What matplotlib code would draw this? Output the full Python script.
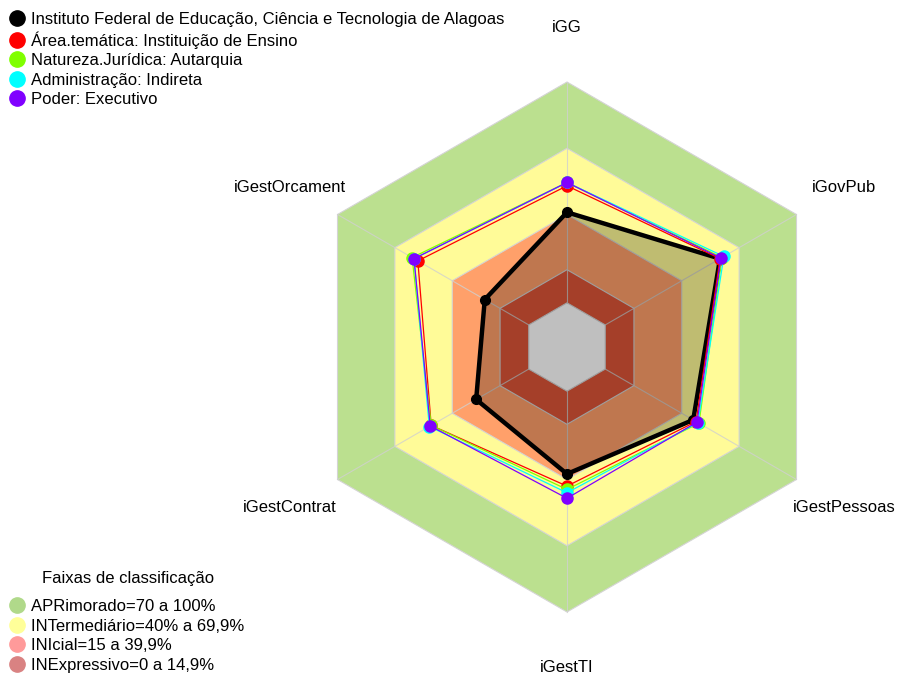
import numpy as np
import matplotlib
matplotlib.use('Agg')
import matplotlib.pyplot as plt
from matplotlib.lines import Line2D

plt.rcParams['font.family'] = ['Liberation Sans', 'DejaVu Sans']

# eixos do radar (sentido horario a partir do topo)
eixos = ['iGG', 'iGovPub', 'iGestPessoas', 'iGestTI', 'iGestContrat', 'iGestOrcament']

# valores (%)
instituto = [41, 60, 46, 37.5, 27.5, 23]
area_tematica = [53, 60, 47.5, 43, 51, 58]
natureza = [54.5, 61, 49, 44.5, 51, 61]
administracao = [54.5, 62, 48.5, 46, 52, 60]
poder = [54.5, 60.5, 48, 48.5, 51.5, 60]

series_nomes = ['Instituto Federal de Educação, Ciência e Tecnologia de Alagoas',
                'Área.temática: Instituição de Ensino',
                'Natureza.Jurídica: Autarquia',
                'Administração: Indireta',
                'Poder: Executivo']
series_cores = ['black', '#FF0000', '#80FF00', '#00FFFF', '#8000FF']

# faixas de classificacao
faixas_lim = [100, 70, 40, 15, 0]
faixas_cor = ['#BBE08F', '#FFFB98', '#FFA06A', '#DD5538', 'white']
faixas_nomes = ['APRimorado=70 a 100%', 'INTermediário=40% a 69,9%',
                'INIcial=15 a 39,9%', 'INExpressivo=0 a 14,9%']
faixas_leg_cor = ['#B0D98A', '#FFFF99', '#FF9A9A', '#D98282']

n = len(eixos)
ang = np.deg2rad(90 - 60 * np.arange(n))


def raio(v):
    # centro com "buraco" de 1/6 do raio (seg=5)
    return (1 + 5 * np.asarray(v, dtype=float) / 100) / 6


def xy(vals):
    r = raio(vals)
    x = r * np.cos(ang)
    y = r * np.sin(ang)
    return np.append(x, x[0]), np.append(y, y[0])


fig = plt.figure(figsize=(9, 6.78), dpi=100)
ax = fig.add_axes([0, 0, 1, 1])
ax.set_xlim(-567 / 265, 333 / 265)
ax.set_ylim(-331 / 265, 347 / 265)
ax.set_aspect('equal')
ax.axis('off')

for lim, cor in zip(faixas_lim, faixas_cor):
    x, y = xy([lim] * n)
    ax.fill(x, y, color=cor, ec='#D4D4D4', lw=0.8, zorder=1)

# raios
r0, r1 = raio(0), raio(100)
for a in ang:
    ax.plot([r0 * np.cos(a), r1 * np.cos(a)], [r0 * np.sin(a), r1 * np.sin(a)],
            color='#D0D0D0', lw=0.8, alpha=0.8, zorder=2)

# serie principal
x, y = xy(instituto)
ax.fill(x, y, color='black', alpha=0.25, lw=0, zorder=3)
ax.plot(x, y, color='black', lw=3.2, zorder=4)
ax.plot(x[:-1], y[:-1], 'o', color='black', ms=7, zorder=4)

outras = [area_tematica, natureza, administracao, poder]
for vals, cor in zip(outras, series_cores[1:]):
    x, y = xy(vals)
    ax.plot(x, y, color=cor, lw=0.9, zorder=5)
    ax.plot(x[:-1], y[:-1], 'o', color=cor, ms=8, zorder=5)

# rotulos dos eixos
rl = 320 / 265
for nome, a in zip(eixos, ang):
    ax.text(rl * np.cos(a), rl * np.sin(a), nome, ha='center', va='center', fontsize=12)

h1 = [Line2D([], [], ls='none', marker='o', ms=11, color=c) for c in series_cores]
leg1 = fig.legend(h1, series_nomes, loc='upper left', bbox_to_anchor=(0.0106, 0.9826),
                  frameon=False, fontsize=12, handlelength=0.9, handletextpad=0.4,
                  labelspacing=0.27, borderaxespad=0, borderpad=0)

h2 = [Line2D([], [], ls='none', marker='o', ms=11, color=c) for c in faixas_leg_cor]
leg2 = fig.legend(h2, faixas_nomes, loc='lower left',
                  bbox_to_anchor=(0.0106, 0.008), frameon=False, fontsize=12,
                  handlelength=0.9, handletextpad=0.4,
                  labelspacing=0.27, borderaxespad=0, borderpad=0)
fig.text(128 / 900, 1 - 578 / 678, 'Faixas de classificação', ha='center', va='center',
         fontsize=12)

fig.savefig('out.png', dpi=100)
